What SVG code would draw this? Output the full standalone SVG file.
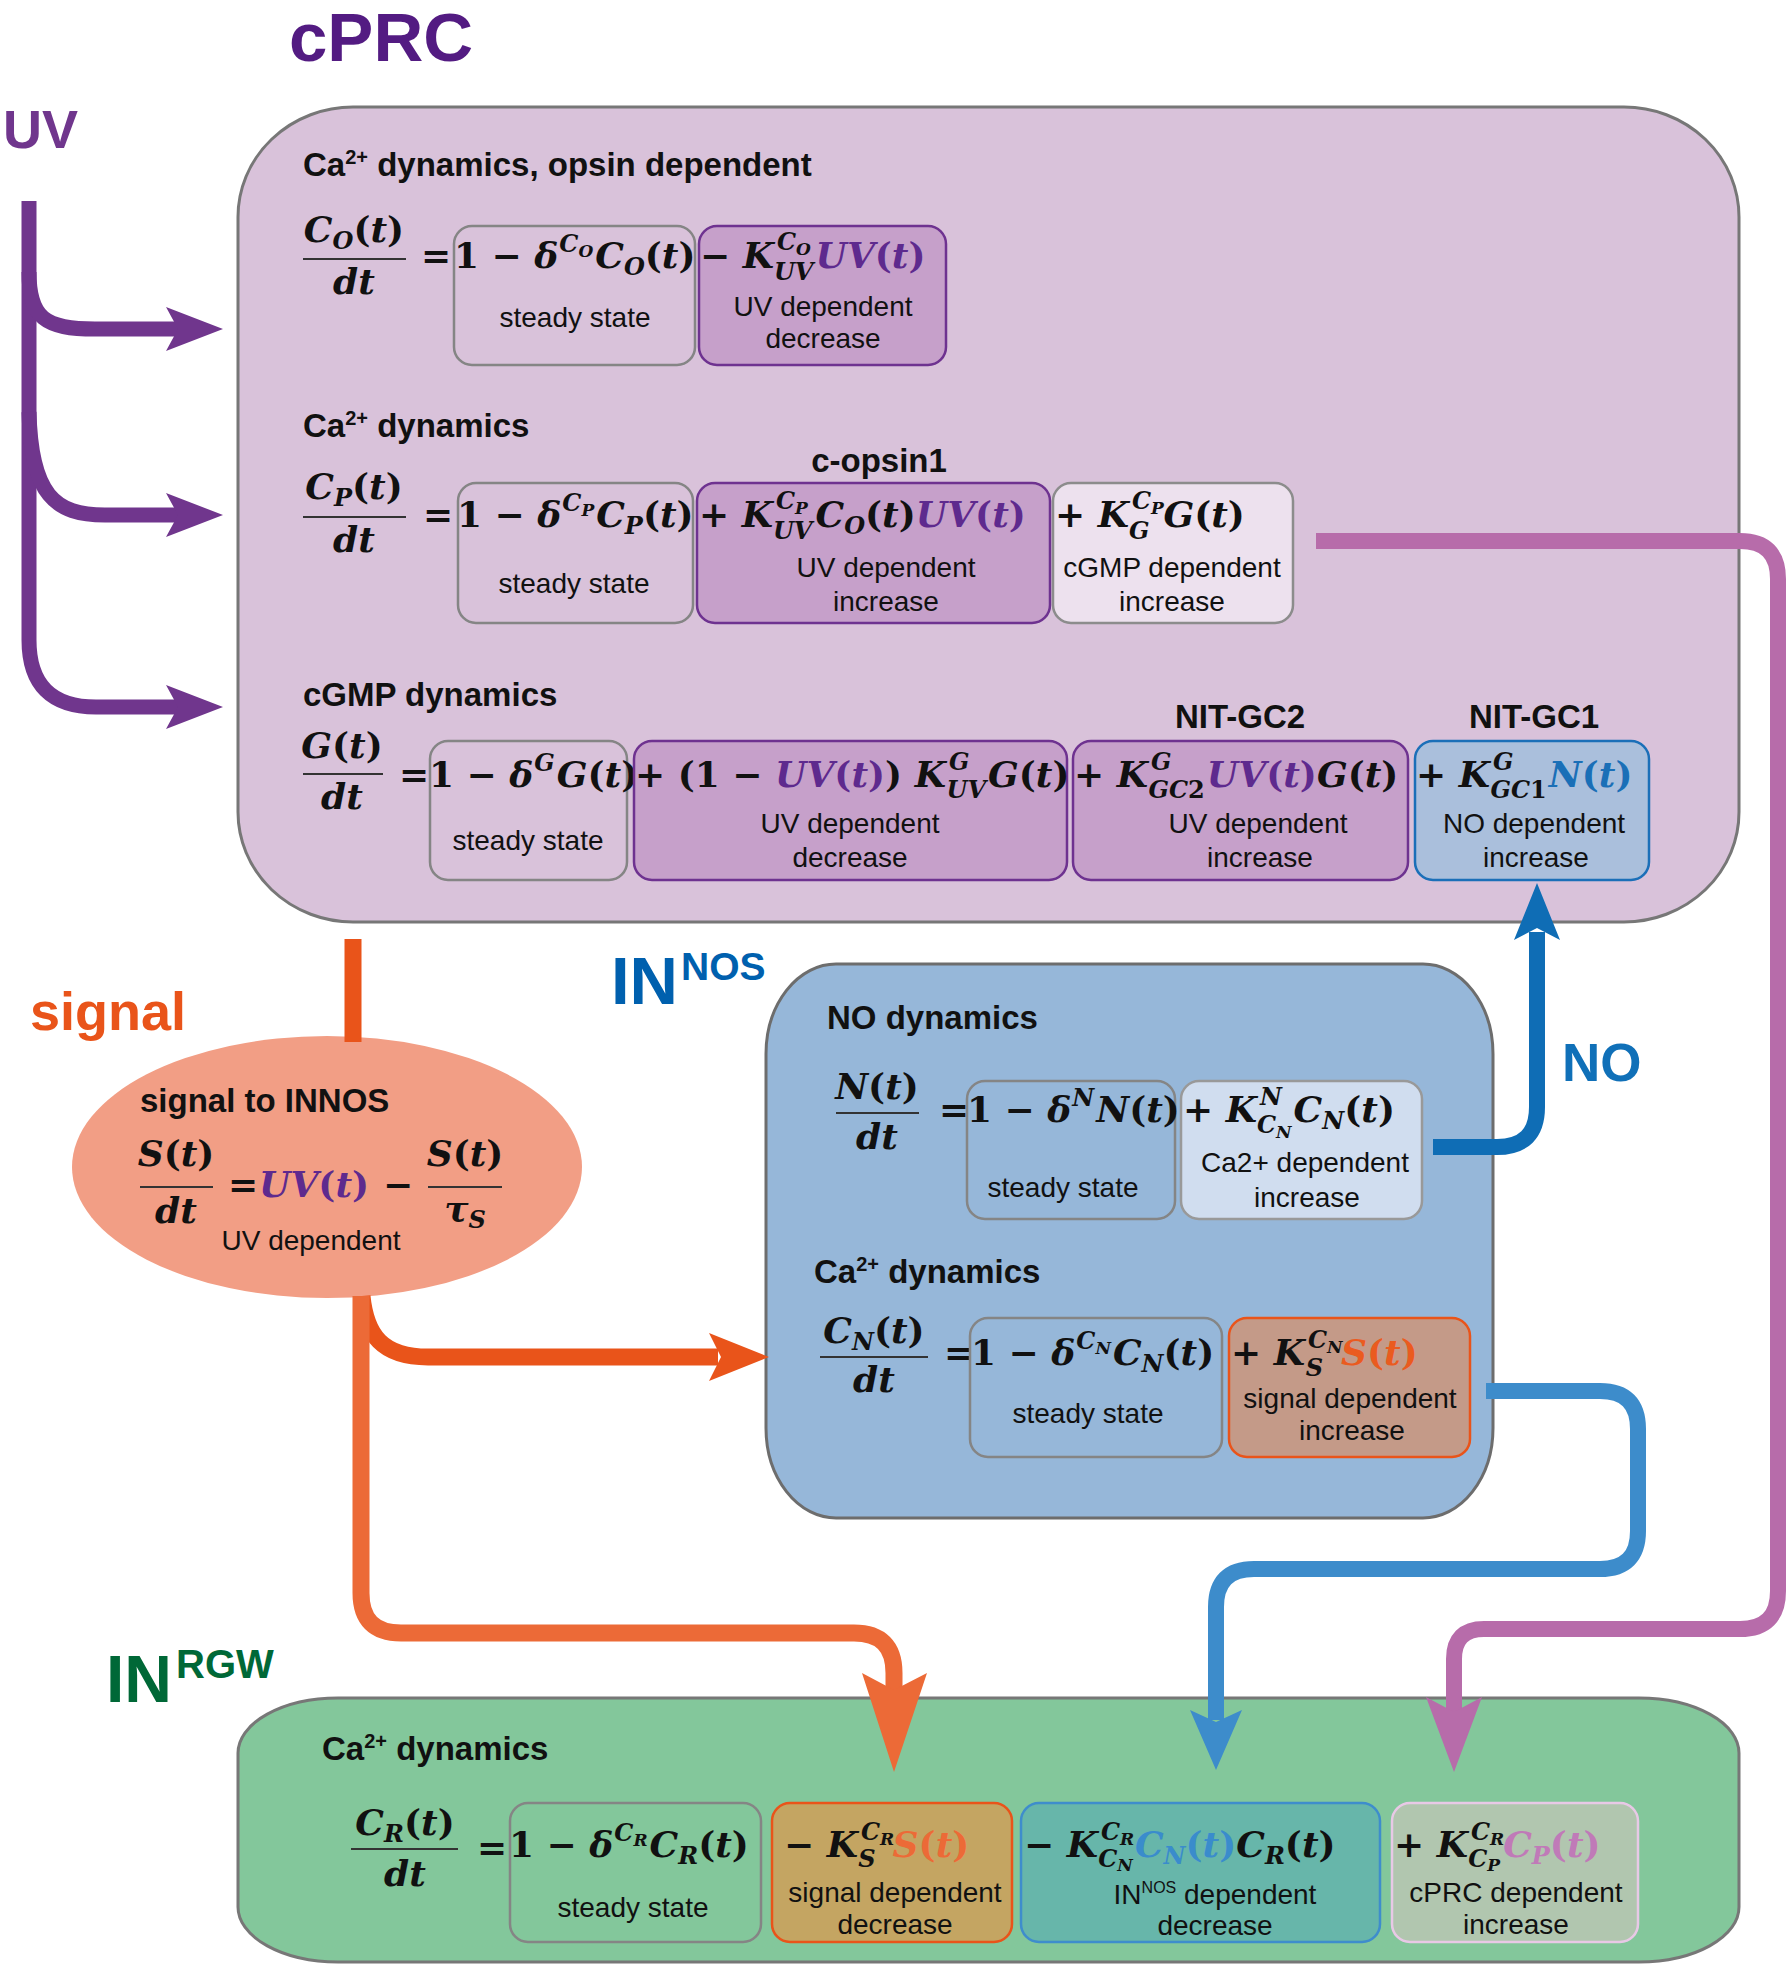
<svg xmlns="http://www.w3.org/2000/svg" width="1787" height="1968" viewBox="0 0 1787 1968">
<defs>
<style>
.h{font-family:"Liberation Sans",Arial,sans-serif;font-weight:bold;font-size:33px;fill:#111}
.hc{text-anchor:middle}
.d{font-family:"Liberation Sans",Arial,sans-serif;font-size:28px;fill:#111;text-anchor:middle}
.big{font-family:"Liberation Sans",Arial,sans-serif;font-weight:bold}
.m{font-family:"DejaVu Serif",serif;font-weight:bold;font-style:italic;font-size:36px;fill:#111}
.u{font-style:normal}
.s{font-size:24px}
.x{font-size:17px}
.c{text-anchor:middle}
.uv{fill:#5e2a8e}
.nb{fill:#1a6fb7}
.os{fill:#ea5b1f}
.cb{fill:#3a8ccc}
.cp{fill:#c07ab8}
.fl{stroke:#333;stroke-width:2}
.ib{stroke-width:2.5}
.gr{stroke:#858585}
.pu{fill:#c6a0ca;stroke:#6e3290}
.uvc{stroke:#70368d;stroke-width:15;fill:none}
.uvh{fill:#70368d}
.prc{stroke:#b76caa;stroke-width:16;fill:none}
.prh{fill:#b76caa}
.no{stroke:#0f6db5;stroke-width:16;fill:none}
.noh{fill:#0f6db5}
.cn{stroke:#3d8ccb;stroke-width:16;fill:none}
.cnh{fill:#3d8ccb}
.or1{stroke:#e9541a;stroke-width:17;fill:none}
.or1h{fill:#e9541a}
.or2{stroke:#ec6a37;stroke-width:17;fill:none}
.or2h{fill:#ec6a37}
</style>
</defs>
<rect width="1787" height="1968" fill="#fff"/>

<!-- titles -->
<text class="big" x="289" y="61" font-size="69" fill="#531b82">cPRC</text>
<text class="big" x="3" y="148" font-size="54" fill="#70368d">UV</text>
<text class="big" x="30" y="1030" font-size="54" fill="#e9541a">signal</text>
<text class="big" x="611" y="1004" font-size="67" fill="#0060ae">IN<tspan x="681" y="980" font-size="39">NOS</tspan></text>
<text class="big" x="1562" y="1081" font-size="53" fill="#1070b8">NO</text>
<text class="big" x="106" y="1702" font-size="66" fill="#006837">IN<tspan x="176" y="1678" font-size="40">RGW</tspan></text>

<!-- cPRC -->
<g id="cPRC">
<rect x="238" y="107" width="1501" height="815" rx="115" ry="110" fill="#d9c2da" stroke="#777" stroke-width="3"/>
<text class="h" x="303" y="176">Ca<tspan font-size="20" dy="-12">2+</tspan><tspan dy="12"> dynamics, opsin dependent</tspan></text>
<text class="m c" x="354" y="242">C<tspan class="s" dy="7">O</tspan><tspan class="u" dy="-7">(</tspan>t<tspan class="u">)</tspan></text>
<line class="fl" x1="303" y1="259" x2="406" y2="259"/>
<text class="m c" x="354" y="294">dt</text>
<text class="m u" x="421" y="268">=</text>
<g id="cPRC-CO-steady">
<rect class="ib gr" x="454" y="226" width="241" height="139" rx="18" fill="#d9c2da"/>
<text class="m" x="454" y="268"><tspan class="u">1 − </tspan>δ<tspan class="s" dx="1" dy="-16">C</tspan><tspan class="x" dy="5">O</tspan><tspan dx="2" dy="11">C</tspan><tspan class="s" dy="7">O</tspan><tspan class="u" dy="-7">(</tspan>t<tspan class="u">)</tspan></text>
<text class="d" x="575" y="327">steady state</text>
</g>
<g id="cPRC-CO-uv">
<rect class="ib pu" x="699" y="226" width="247" height="139" rx="18"/>
<text class="m" x="700" y="268"><tspan class="u">− </tspan>K<tspan class="s" dx="3" dy="-18">C</tspan><tspan class="x" dy="5">O</tspan><tspan class="s" dx="-37" dy="25">UV</tspan><tspan class="uv" dx="2" dy="-12">UV<tspan class="u">(</tspan>t<tspan class="u">)</tspan></tspan></text>
<text class="d" x="823" y="316">UV dependent</text>
<text class="d" x="823" y="348">decrease</text>
</g>

<text class="h" x="303" y="437">Ca<tspan font-size="20" dy="-12">2+</tspan><tspan dy="12"> dynamics</tspan></text>
<text class="h hc" x="879" y="472">c-opsin1</text>
<text class="m c" x="354" y="499">C<tspan class="s" dy="7">P</tspan><tspan class="u" dy="-7">(</tspan>t<tspan class="u">)</tspan></text>
<line class="fl" x1="303" y1="517" x2="406" y2="517"/>
<text class="m c" x="354" y="552">dt</text>
<text class="m u" x="423" y="527">=</text>
<g id="cPRC-CP-steady">
<rect class="ib gr" x="458" y="483" width="235" height="140" rx="18" fill="#d9c2da"/>
<text class="m" x="457" y="527"><tspan class="u">1 − </tspan>δ<tspan class="s" dx="1" dy="-16">C</tspan><tspan class="x" dy="5">P</tspan><tspan dx="2" dy="11">C</tspan><tspan class="s" dy="7">P</tspan><tspan class="u" dy="-7">(</tspan>t<tspan class="u">)</tspan></text>
<text class="d" x="574" y="593">steady state</text>
</g>
<g id="cPRC-CP-uv">
<rect class="ib pu" x="697" y="483" width="353" height="140" rx="18"/>
<text class="m" x="699" y="527"><tspan class="u">+ </tspan>K<tspan class="s" dx="3" dy="-18">C</tspan><tspan class="x" dy="5">P</tspan><tspan class="s" dx="-35" dy="25">UV</tspan><tspan dx="3" dy="-12">C</tspan><tspan class="s" dy="7">O</tspan><tspan class="u" dy="-7">(</tspan>t<tspan class="u">)</tspan><tspan class="uv">UV<tspan class="u">(</tspan>t<tspan class="u">)</tspan></tspan></text>
<text class="d" x="886" y="577">UV dependent</text>
<text class="d" x="886" y="611">increase</text>
</g>
<g id="cPRC-CP-cgmp">
<rect class="ib" x="1053" y="483" width="240" height="140" rx="18" fill="#ede1ee" stroke="#8c8c8c"/>
<text class="m" x="1055" y="527"><tspan class="u">+ </tspan>K<tspan class="s" dx="3" dy="-18">C</tspan><tspan class="x" dy="5">P</tspan><tspan class="s" dx="-35" dy="25">G</tspan><tspan dx="14" dy="-12">G</tspan><tspan class="u">(</tspan>t<tspan class="u">)</tspan></text>
<text class="d" x="1172" y="577">cGMP dependent</text>
<text class="d" x="1172" y="611">increase</text>
</g>

<text class="h" x="303" y="706">cGMP dynamics</text>
<text class="h hc" x="1240" y="728">NIT-GC2</text>
<text class="h hc" x="1534" y="728">NIT-GC1</text>
<text class="m c" x="342" y="758">G<tspan class="u">(</tspan>t<tspan class="u">)</tspan></text>
<line class="fl" x1="303" y1="774" x2="383" y2="774"/>
<text class="m c" x="342" y="809">dt</text>
<text class="m u" x="399" y="787">=</text>
<g id="cPRC-G-steady">
<rect class="ib gr" x="430" y="741" width="197" height="139" rx="18" fill="#d9c2da"/>
<text class="m" x="429" y="787"><tspan class="u">1 − </tspan>δ<tspan class="s" dx="1" dy="-16">G</tspan><tspan dx="2" dy="16">G</tspan><tspan class="u">(</tspan>t<tspan class="u">)</tspan></text>
<text class="d" x="528" y="850">steady state</text>
</g>
<g id="cPRC-G-uvdec">
<rect class="ib pu" x="634" y="741" width="433" height="139" rx="18"/>
<text class="m" x="635" y="787"><tspan class="u">+ (1 − </tspan><tspan class="uv">UV<tspan class="u">(</tspan>t<tspan class="u">)</tspan></tspan><tspan class="u">) </tspan>K<tspan class="s" dx="3" dy="-17">G</tspan><tspan class="s" dx="-23" dy="28">UV</tspan><tspan dx="2" dy="-11">G</tspan><tspan class="u">(</tspan>t<tspan class="u">)</tspan></text>
<text class="d" x="850" y="833">UV dependent</text>
<text class="d" x="850" y="867">decrease</text>
</g>
<g id="cPRC-G-gc2">
<rect class="ib pu" x="1073" y="741" width="335" height="139" rx="18"/>
<text class="m" x="1074" y="787"><tspan class="u">+ </tspan>K<tspan class="s" dx="3" dy="-17">G</tspan><tspan class="s" dx="-23" dy="28">GC<tspan class="u">2</tspan></tspan><tspan class="uv" dx="2" dy="-11">UV<tspan class="u">(</tspan>t<tspan class="u">)</tspan></tspan>G<tspan class="u">(</tspan>t<tspan class="u">)</tspan></text>
<text class="d" x="1258" y="833">UV dependent</text>
<text class="d" x="1260" y="867">increase</text>
</g>
<g id="cPRC-G-gc1">
<rect class="ib" x="1415" y="741" width="234" height="139" rx="18" fill="#aabfdc" stroke="#1b6fb8"/>
<text class="m" x="1416" y="787"><tspan class="u">+ </tspan>K<tspan class="s" dx="3" dy="-17">G</tspan><tspan class="s" dx="-23" dy="28">GC<tspan class="u">1</tspan></tspan><tspan class="nb" dx="2" dy="-11">N<tspan class="u">(</tspan>t<tspan class="u">)</tspan></tspan></text>
<text class="d" x="1534" y="833">NO dependent</text>
<text class="d" x="1536" y="867">increase</text>
</g>
</g>

<!-- signal -->
<g id="signal">
<ellipse cx="327" cy="1167" rx="255" ry="131" fill="#f29e85"/>
<text class="h" x="140" y="1112">signal to INNOS</text>
<text class="m c" x="176" y="1166">S<tspan class="u">(</tspan>t<tspan class="u">)</tspan></text>
<line class="fl" x1="140" y1="1187" x2="213" y2="1187"/>
<text class="m c" x="176" y="1223">dt</text>
<text class="m u" x="228" y="1197">=</text>
<text class="m uv" x="259" y="1197">UV<tspan class="u">(</tspan>t<tspan class="u">)</tspan></text>
<text class="m u" x="383" y="1197">−</text>
<text class="m c" x="465" y="1166">S<tspan class="u">(</tspan>t<tspan class="u">)</tspan></text>
<line class="fl" x1="428" y1="1187" x2="502" y2="1187"/>
<text class="m c" x="465" y="1221">τ<tspan class="s" dy="7">S</tspan></text>
<text class="d" x="311" y="1250">UV dependent</text>
</g>

<!-- INNOS -->
<g id="INNOS">
<rect x="766" y="964" width="727" height="554" rx="70" ry="90" fill="#96b7d9" stroke="#6d6d6d" stroke-width="3"/>
<text class="h" x="827" y="1029">NO dynamics</text>
<text class="m c" x="877" y="1099">N<tspan class="u">(</tspan>t<tspan class="u">)</tspan></text>
<line class="fl" x1="836" y1="1113" x2="919" y2="1113"/>
<text class="m c" x="877" y="1149">dt</text>
<text class="m u" x="939" y="1122">=</text>
<g id="INNOS-N-steady">
<rect class="ib gr" x="967" y="1081" width="208" height="138" rx="18" fill="#96b7d9"/>
<text class="m" x="967" y="1122"><tspan class="u">1 − </tspan>δ<tspan class="s" dx="1" dy="-16">N</tspan><tspan dx="2" dy="16">N</tspan><tspan class="u">(</tspan>t<tspan class="u">)</tspan></text>
<text class="d" x="1063" y="1197">steady state</text>
</g>
<g id="INNOS-N-ca">
<rect class="ib" x="1181" y="1081" width="241" height="138" rx="18" fill="#d0ddef" stroke="#999"/>
<text class="m" x="1183" y="1122"><tspan class="u">+ </tspan>K<tspan class="s" dx="3" dy="-17">N</tspan><tspan class="s" dx="-25" dy="28">C</tspan><tspan class="x" dy="5">N</tspan><tspan dx="2" dy="-16">C</tspan><tspan class="s" dy="7">N</tspan><tspan class="u" dy="-7">(</tspan>t<tspan class="u">)</tspan></text>
<text class="d" x="1305" y="1172">Ca2+ dependent</text>
<text class="d" x="1307" y="1207">increase</text>
</g>
<text class="h" x="814" y="1283">Ca<tspan font-size="20" dy="-12">2+</tspan><tspan dy="12"> dynamics</tspan></text>
<text class="m c" x="874" y="1343">C<tspan class="s" dy="7">N</tspan><tspan class="u" dy="-7">(</tspan>t<tspan class="u">)</tspan></text>
<line class="fl" x1="820" y1="1357" x2="928" y2="1357"/>
<text class="m c" x="874" y="1392">dt</text>
<text class="m u" x="944" y="1365">=</text>
<g id="INNOS-CN-steady">
<rect class="ib gr" x="970" y="1318" width="252" height="139" rx="18" fill="#96b7d9"/>
<text class="m" x="971" y="1365"><tspan class="u">1 − </tspan>δ<tspan class="s" dx="1" dy="-16">C</tspan><tspan class="x" dy="5">N</tspan><tspan dx="2" dy="11">C</tspan><tspan class="s" dy="7">N</tspan><tspan class="u" dy="-7">(</tspan>t<tspan class="u">)</tspan></text>
<text class="d" x="1088" y="1423">steady state</text>
</g>
<g id="INNOS-CN-signal">
<rect class="ib" x="1229" y="1318" width="241" height="139" rx="18" fill="#c49a88" stroke="#e9541a"/>
<text class="m" x="1231" y="1365"><tspan class="u">+ </tspan>K<tspan class="s" dx="3" dy="-17">C</tspan><tspan class="x" dy="5">N</tspan><tspan class="s" dx="-37" dy="23">S</tspan><tspan class="os" dx="18" dy="-11">S<tspan class="u">(</tspan>t<tspan class="u">)</tspan></tspan></text>
<text class="d" x="1350" y="1408">signal dependent</text>
<text class="d" x="1352" y="1440">increase</text>
</g>
</g>

<!-- INRGW -->
<g id="INRGW">
<rect x="238" y="1698" width="1501" height="264" rx="100" ry="55" fill="#83c79b" stroke="#777" stroke-width="3"/>
<text class="h" x="322" y="1760">Ca<tspan font-size="20" dy="-12">2+</tspan><tspan dy="12"> dynamics</tspan></text>
<text class="m c" x="405" y="1835">C<tspan class="s" dy="7">R</tspan><tspan class="u" dy="-7">(</tspan>t<tspan class="u">)</tspan></text>
<line class="fl" x1="351" y1="1849" x2="458" y2="1849"/>
<text class="m c" x="405" y="1886">dt</text>
<text class="m u" x="477" y="1860">=</text>
<g id="INRGW-steady">
<rect class="ib gr" x="510" y="1803" width="251" height="139" rx="18" fill="#83c79b"/>
<text class="m" x="509" y="1857"><tspan class="u">1 − </tspan>δ<tspan class="s" dx="1" dy="-16">C</tspan><tspan class="x" dy="5">R</tspan><tspan dx="2" dy="11">C</tspan><tspan class="s" dy="7">R</tspan><tspan class="u" dy="-7">(</tspan>t<tspan class="u">)</tspan></text>
<text class="d" x="633" y="1917">steady state</text>
</g>
<g id="INRGW-signal">
<rect class="ib" x="772" y="1803" width="240" height="139" rx="18" fill="#c4a562" stroke="#e9541a"/>
<text class="m" x="784" y="1857"><tspan class="u">− </tspan>K<tspan class="s" dx="3" dy="-17">C</tspan><tspan class="x" dy="5">R</tspan><tspan class="s" dx="-36" dy="22">S</tspan><tspan dx="17" dy="-10" fill="#ec6a37">S<tspan class="u">(</tspan>t<tspan class="u">)</tspan></tspan></text>
<text class="d" x="895" y="1902">signal dependent</text>
<text class="d" x="895" y="1934">decrease</text>
</g>
<g id="INRGW-innos">
<rect class="ib" x="1021" y="1803" width="359" height="139" rx="18" fill="#67b6aa" stroke="#3e8dcc"/>
<text class="m" x="1024" y="1857"><tspan class="u">− </tspan>K<tspan class="s" dx="3" dy="-17">C</tspan><tspan class="x" dy="5">R</tspan><tspan class="s" dx="-36" dy="22">C</tspan><tspan class="x" dy="4">N</tspan><tspan class="cb" dx="2" dy="-14">C<tspan class="s" dy="7">N</tspan><tspan class="u" dy="-7">(</tspan>t<tspan class="u">)</tspan></tspan>C<tspan class="s" dy="7">R</tspan><tspan class="u" dy="-7">(</tspan>t<tspan class="u">)</tspan></text>
<text class="d" x="1215" y="1904">IN<tspan font-size="16" dy="-11">NOS</tspan><tspan dy="11"> dependent</tspan></text>
<text class="d" x="1215" y="1935">decrease</text>
</g>
<g id="INRGW-cprc">
<rect class="ib" x="1392" y="1803" width="246" height="139" rx="18" fill="#b1c6af" stroke="#e8c9e6"/>
<text class="m" x="1394" y="1857"><tspan class="u">+ </tspan>K<tspan class="s" dx="3" dy="-17">C</tspan><tspan class="x" dy="5">R</tspan><tspan class="s" dx="-36" dy="22">C</tspan><tspan class="x" dy="4">P</tspan><tspan class="cp" dx="3" dy="-14">C<tspan class="s" dy="7">P</tspan><tspan class="u" dy="-7">(</tspan>t<tspan class="u">)</tspan></tspan></text>
<text class="d" x="1516" y="1902">cPRC dependent</text>
<text class="d" x="1516" y="1934">increase</text>
</g>
</g>

<!-- connectors -->
<g id="connectors">
<path class="uvc" d="M29,201 L29,640 Q29,707 96,707 L180,707"/>
<path class="uvc" d="M29,272 C29,318 45,329 95,329 L180,329"/>
<path class="uvc" d="M29,412 C31,495 55,515 105,515 L180,515"/>
<polygon class="uvh" points="223,329 166,307 178,329 166,351"/>
<polygon class="uvh" points="223,515 166,493 178,515 166,537"/>
<polygon class="uvh" points="223,707 166,685 178,707 166,729"/>

<path class="prc" d="M1316,541 L1740,541 Q1778,541 1778,579 L1778,1591 Q1778,1629 1740,1629 L1484,1629 Q1454,1629 1454,1659 L1454,1712"/>
<polygon class="prh" points="1454,1772 1426,1697 1454,1712 1482,1697"/>

<path class="no" d="M1433,1147 L1497,1147 Q1537,1147 1537,1107 L1537,932"/>
<polygon class="noh" points="1537,883 1514,940 1537,928 1560,940"/>

<path class="cn" d="M1486,1391 L1600,1391 Q1638,1391 1638,1429 L1638,1531 Q1638,1569 1600,1569 L1254,1569 Q1216,1569 1216,1607 L1216,1720"/>
<polygon class="cnh" points="1216,1770 1190,1710 1216,1722 1242,1710"/>

<path class="or1" d="M353,939 L353,1042"/>
<path class="or1" d="M362,1296 C366,1335 382,1357 428,1357 L718,1357"/>
<polygon class="or1h" points="769,1357 709,1333 721,1357 709,1381"/>
<path class="or2" d="M361,1296 L361,1593 Q361,1633 401,1633 L854,1633 Q894,1633 894,1673 L894,1692"/>
<polygon class="or2h" points="894,1772 862,1673 894,1690 927,1673"/>
</g>
</svg>
